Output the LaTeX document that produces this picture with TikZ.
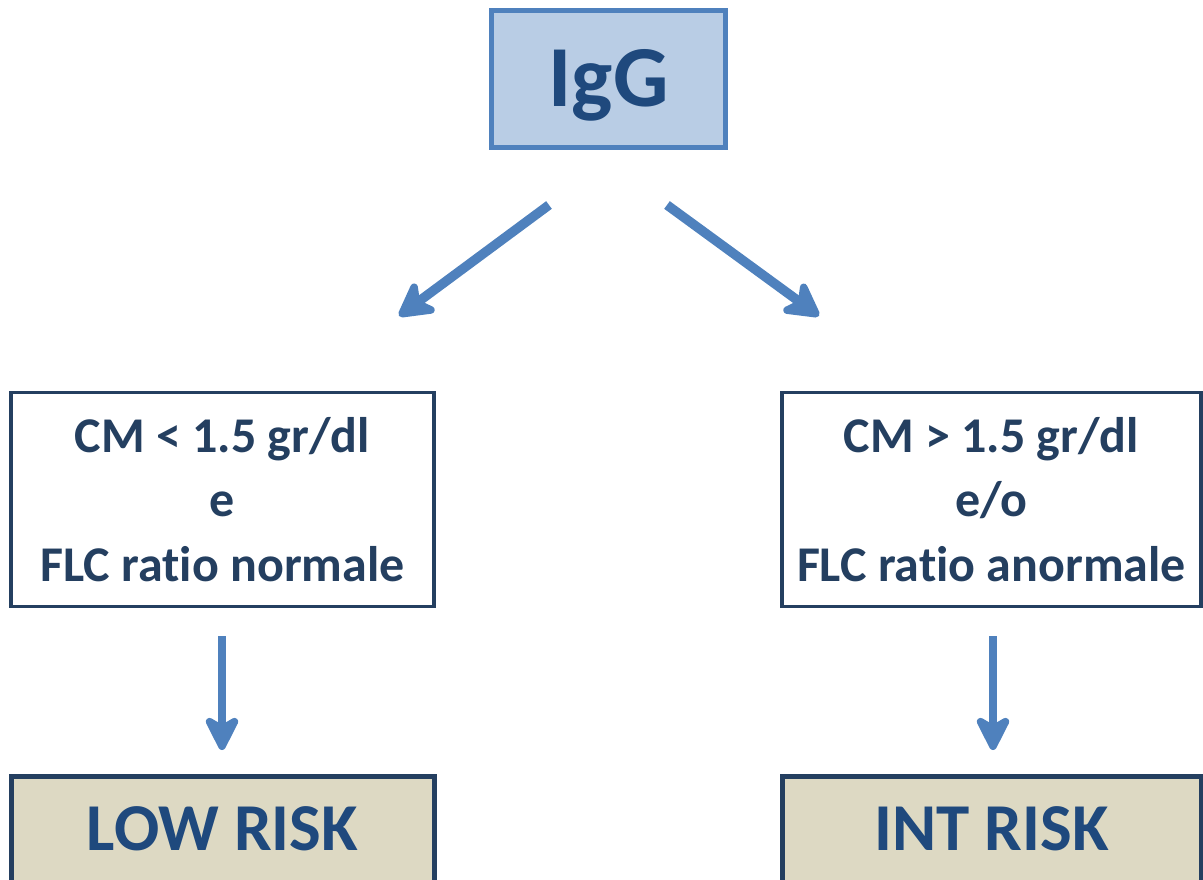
\documentclass[tikz,border=0pt]{standalone}
\usepackage{fontspec}
\setmainfont[Ligatures={NoCommon}]{Carlito}
\usetikzlibrary{arrows.meta}
\definecolor{boxblue}{HTML}{4F81BD}
\definecolor{boxfill}{HTML}{B9CDE5}
\definecolor{navy}{HTML}{1F497D}
\definecolor{darkline}{HTML}{243F60}
\definecolor{tan}{HTML}{DDD9C3}
\tikzset{
  topbox/.style={draw=boxblue, line width=5pt, fill=boxfill, minimum width=234pt, minimum height=137pt,
    inner sep=0pt, text=navy, font=\fontsize{87}{100}\selectfont\bfseries, text depth=0pt},
  condbox/.style={draw=darkline, line width=3.5pt, fill=white, minimum height=214pt, inner sep=0pt,
    align=center, text=darkline, font=\fontsize{50}{64.5}\selectfont\bfseries},
  riskbox/.style={draw=darkline, line width=5pt, fill=tan, minimum height=106pt, inner sep=0pt,
    text=navy, font=\fontsize{67}{80}\selectfont\bfseries},
  flow/.style={draw=boxblue, line width=9.5pt, -{Stealth[length=42pt, width=46pt, inset=12pt, round]}},
  vflow/.style={draw=boxblue, line width=8pt, -{Stealth[length=42pt, width=42pt, inset=12pt, round]}}
}
\begin{document}
\begin{tikzpicture}[x=1pt, y=-1pt]
\useasboundingbox (0,0) rectangle (1203,880);
\node[topbox] (igg) at (608.5,79) {\raisebox{2pt}{IgG}};
\node[condbox, minimum width=423pt] (left) at (222.5,499.5) {CM < 1.5 gr/dl\\e\\FLC ratio normale};
\node[condbox, minimum width=419pt] (right) at (991.5,499.5) {CM > 1.5 gr/dl\\e/o\\FLC ratio anormale};
\node[riskbox, minimum width=423pt] (low) at (222.5,829) {LOW RISK};
\node[riskbox, minimum width=419pt] (int) at (991.5,829) {INT RISK};
\coordinate (a1s) at (549,205);
\coordinate (a1e) at (399,316);
\coordinate (a2s) at (667,205);
\coordinate (a2e) at (819,316);
\coordinate (v1s) at (222,636);
\coordinate (v1e) at (222,750);
\coordinate (v2s) at (993,636);
\coordinate (v2e) at (993,750);
\draw[flow] (a1s) -- (a1e);
\draw[flow] (a2s) -- (a2e);
\draw[vflow] (v1s) -- (v1e);
\draw[vflow] (v2s) -- (v2e);
\end{tikzpicture}
\end{document}
